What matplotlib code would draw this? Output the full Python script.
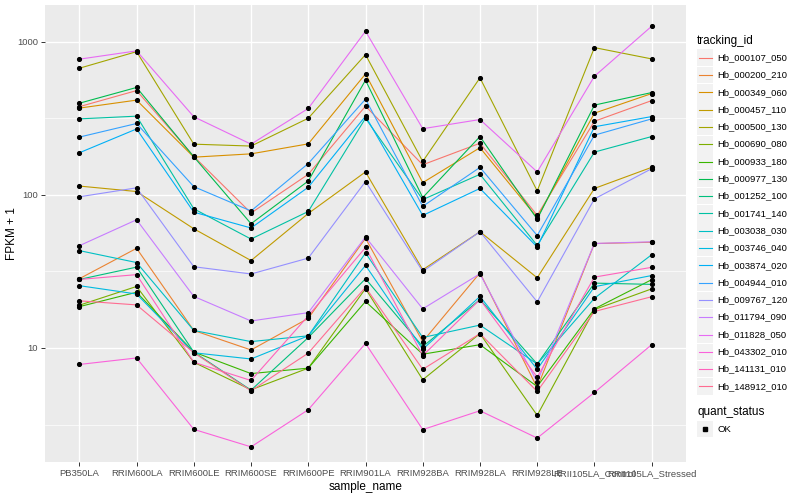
import matplotlib
matplotlib.use("Agg")
import matplotlib.pyplot as plt
import numpy as np

plt.rcParams['font.family'] = ['Liberation Sans', 'DejaVu Sans']

samples = ['PB350LA', 'RRIM600LA', 'RRIM600LE', 'RRIM600SE', 'RRIM600PE', 'RRIM901LA',
           'RRIM928BA', 'RRIM928LA', 'RRIM928LE', 'RRII105LA_Control', 'RRII105LA_Stressed']

tracking_ids = ['Hb_000107_050', 'Hb_000200_210', 'Hb_000349_060', 'Hb_000457_110',
                'Hb_000500_130', 'Hb_000690_080', 'Hb_000933_180', 'Hb_000977_130',
                'Hb_001252_100', 'Hb_001741_140', 'Hb_003038_030', 'Hb_003746_040',
                'Hb_003874_020', 'Hb_004944_010', 'Hb_009767_120', 'Hb_011794_090',
                'Hb_011828_050', 'Hb_043302_010', 'Hb_141131_010', 'Hb_148912_010']

# FPKM + 1 per gene, one value per sample
hb_000107_050 = [376, 479, 178, 76, 136, 379, 157, 217, 73.3, 302, 412]
hb_000200_210 = [28.3, 44.7, 13.0, 9.7, 15.6, 52.0, 11.0, 30.9, 5.5, 48.0, 49.0]
hb_000349_060 = [368, 415, 176, 185, 215, 615, 120, 203, 70.8, 341, 458]
hb_000457_110 = [114, 105, 60, 37.2, 75.5, 141, 32.4, 57.4, 28.7, 110, 151]
hb_000500_130 = [670, 860, 214, 208, 316, 822, 165, 580, 106, 914, 771]
hb_000690_080 = [19.0, 25.2, 8.06, 5.33, 7.38, 24.4, 6.2, 12.4, 3.63, 17.8, 24.3]
hb_000933_180 = [18.6, 23.1, 9.4, 6.8, 7.38, 20.1, 9.1, 10.5, 5.6, 18.0, 27.9]
hb_000977_130 = [396, 502, 177, 64.7, 123, 560, 95.9, 240, 69.3, 385, 465]
hb_001252_100 = [28.0, 33.7, 9.4, 5.3, 11.7, 28.3, 10.2, 20.7, 7.85, 26.5, 26.0]
hb_001741_140 = [313, 326, 81, 51.4, 77.8, 316, 93, 136, 46.7, 190, 240]
hb_003038_030 = [43.2, 36.1, 13.0, 11.0, 12.0, 41.7, 11.7, 14.1, 7.85, 21.1, 40.6]
hb_003746_040 = [25.5, 22.5, 9.3, 8.47, 12.0, 34.6, 9.8, 21.7, 7.25, 25.1, 29.7]
hb_003874_020 = [188, 269, 77, 60.7, 112, 326, 73.3, 110, 45.6, 278, 324]
hb_004944_010 = [238, 292, 113, 78.4, 160, 421, 84, 151, 54.2, 245, 313]
hb_009767_120 = [97, 111, 33.9, 30.4, 38.6, 122, 31.6, 57.4, 20.0, 94, 148]
hb_011794_090 = [46.5, 68.7, 21.7, 15.0, 17.0, 53.0, 18.0, 30.5, 6.0, 48.1, 49.3]
hb_011828_050 = [768, 870, 323, 214, 366, 1169, 270, 310, 141, 594, 1260]
hb_043302_010 = [7.8, 8.6, 2.94, 2.26, 3.95, 10.7, 2.93, 3.89, 2.58, 5.12, 10.5]
hb_141131_010 = [28.0, 30.1, 8.06, 6.13, 16.2, 45.3, 8.9, 20.7, 6.45, 29.0, 33.6]
hb_148912_010 = [20.3, 19.1, 9.3, 5.25, 9.25, 24.9, 7.25, 12.4, 5.2, 17.3, 21.6]

series = [hb_000107_050, hb_000200_210, hb_000349_060, hb_000457_110, hb_000500_130,
          hb_000690_080, hb_000933_180, hb_000977_130, hb_001252_100, hb_001741_140,
          hb_003038_030, hb_003746_040, hb_003874_020, hb_004944_010, hb_009767_120,
          hb_011794_090, hb_011828_050, hb_043302_010, hb_141131_010, hb_148912_010]

# ggplot hue palette, 20 levels
colors = ['#F8766D', '#EA8331', '#D89000', '#C09B00', '#A3A500', '#7CAE00', '#39B600',
          '#00BB4E', '#00BF7D', '#00C1A3', '#00BFC4', '#00BAE0', '#00B0F6', '#35A2FF',
          '#9590FF', '#C77CFF', '#E76BF3', '#FA62DB', '#FF62BC', '#FF6C91']

fig = plt.figure(figsize=(8, 5), dpi=100)
W, H = 800, 500
ax = fig.add_axes([45 / W, (H - 462) / H, (686 - 45) / W, (462 - 5) / H])
ax.set_facecolor('#EBEBEB')

x = np.arange(len(samples))
for vals, c in zip(series, colors):
    ax.plot(x, vals, color=c, lw=0.8, zorder=2)
for vals in series:
    ax.plot(x, vals, 'o', color='black', ms=2.7, zorder=3)

ax.set_yscale('log')
ax.set_ylim(1.80, 1734)
ax.set_xlim(-0.6, len(samples) - 0.4)

ax.set_yticks([10, 100, 1000])
ax.set_yticklabels(['10', '100', '1000'])
ax.set_yticks([10 ** 0.5, 10 ** 1.5, 10 ** 2.5], minor=True)
ax.yaxis.set_minor_formatter(matplotlib.ticker.NullFormatter())
ax.set_xticks(x)
ax.set_xticklabels(samples)

ax.grid(True, which='major', color='white', lw=1.0, zorder=0)
ax.grid(True, which='minor', axis='y', color='white', lw=0.5, zorder=0)
ax.set_axisbelow(True)
for s in ax.spines.values():
    s.set_visible(False)
ax.tick_params(which='major', length=3, width=0.7, color='#333333', labelsize=6.8,
               labelcolor='#4D4D4D', pad=2)
ax.tick_params(which='minor', length=0)

ax.set_xlabel('sample_name', fontsize=8.5, labelpad=2)
ax.set_ylabel('FPKM + 1', fontsize=8.5)
ax.yaxis.set_label_coords((18 - 45) / (686 - 45), 0.5)

# legend drawn by hand, ggplot style
def fy(py):
    return (H - py) / H

fig.text(697 / W, fy(40.7), 'tracking_id', fontsize=8.5, va='center', ha='left')
for i, (name, c) in enumerate(zip(tracking_ids, colors)):
    cy = 57.7 + i * 17.3
    fig.patches.append(plt.Rectangle((697 / W, fy(cy + 8.3)), 16 / W, 16.6 / H,
                                     transform=fig.transFigure, facecolor='#F2F2F2',
                                     edgecolor='none'))
    fig.lines.append(plt.Line2D([698.5 / W, 711.5 / W], [fy(cy), fy(cy)],
                                transform=fig.transFigure, color=c, lw=0.8))
    fig.text(717 / W, fy(cy), name, fontsize=6.8, va='center', ha='left')

fig.text(697 / W, fy(412.3), 'quant_status', fontsize=8.5, va='center', ha='left')
fig.patches.append(plt.Rectangle((697 / W, fy(429 + 8.3)), 16 / W, 16.6 / H,
                                 transform=fig.transFigure, facecolor='#F2F2F2',
                                 edgecolor='none'))
fig.lines.append(plt.Line2D([705 / W], [fy(429)], transform=fig.transFigure,
                            marker='s', color='black', ms=2.5, lw=0))
fig.text(717 / W, fy(429), 'OK', fontsize=6.8, va='center', ha='left')

fig.savefig('out.png', dpi=100)
